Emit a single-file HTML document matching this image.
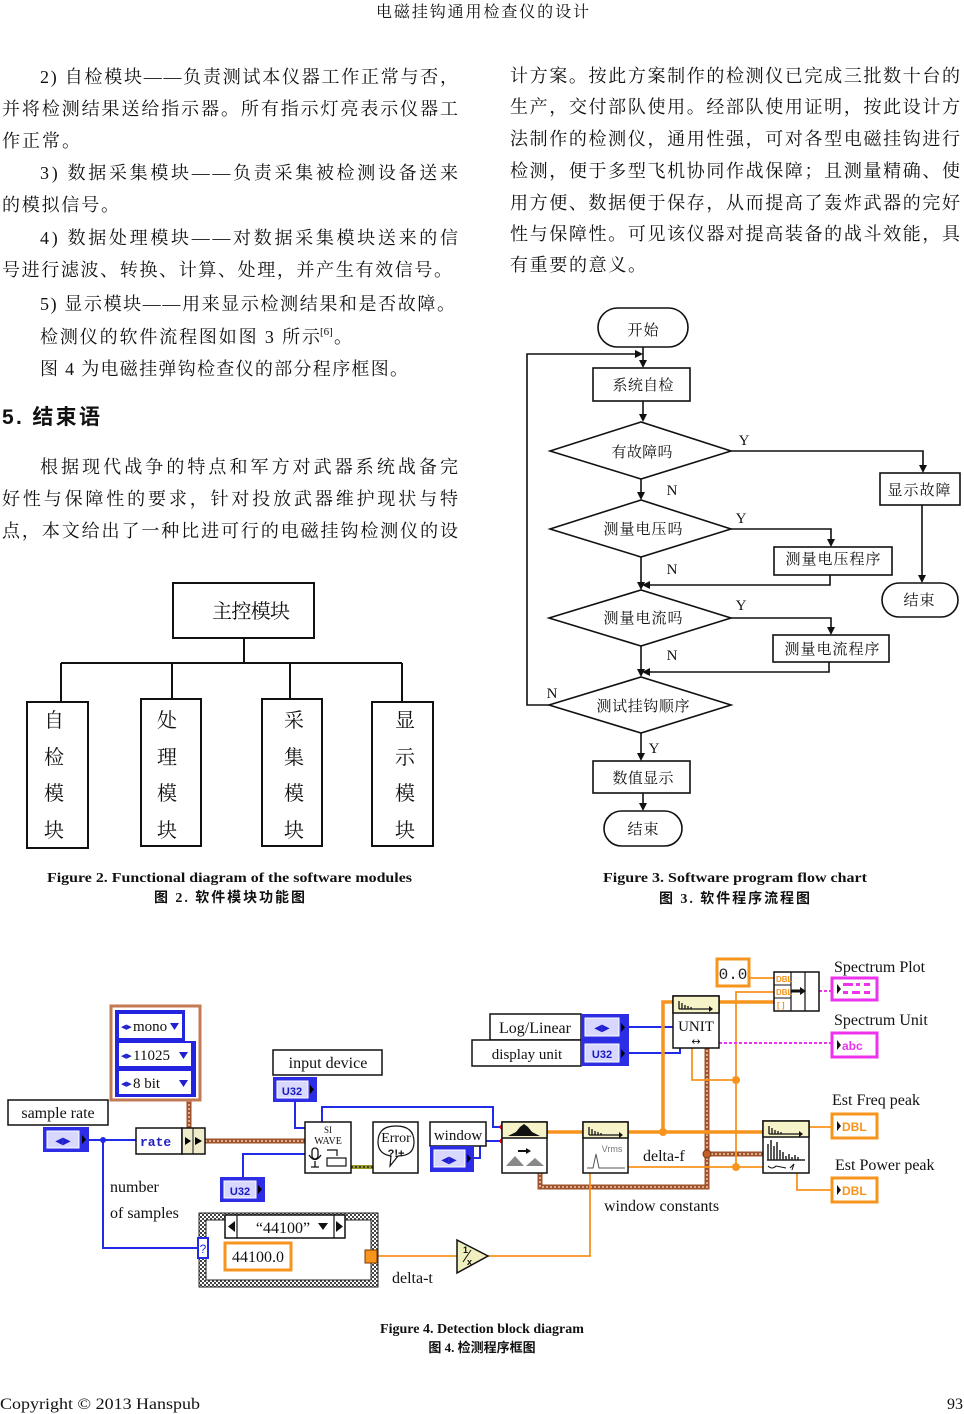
<!DOCTYPE html>
<html><head><meta charset="utf-8">
<style>
html,body{margin:0;padding:0;background:#fff;}
svg{display:block;}
.cn{font-family:"Liberation Serif","Noto Serif CJK SC",serif;fill:#111;}
.lb{font-family:"Liberation Serif",serif;fill:#111;}
.cap{font-family:"Liberation Serif","Noto Sans CJK SC",serif;font-weight:bold;fill:#111;}
</style></head>
<body>
<svg width="964" height="1414" viewBox="0 0 964 1414" xmlns="http://www.w3.org/2000/svg">
<defs>
<pattern id="hatch" width="4" height="4" patternUnits="userSpaceOnUse"><rect width="4" height="4" fill="#fff"/><rect width="2" height="2" fill="#444"/><rect x="2" y="2" width="2" height="2" fill="#444"/></pattern>
</defs>

<!-- Header -->
<text class="cn" x="376" y="17" font-size="16" textLength="213" lengthAdjust="spacing">电磁挂钩通用检查仪的设计</text>

<!-- Left column text -->
<g class="cn" font-size="18">
<text x="40" y="83" textLength="418" lengthAdjust="spacing">2) 自检模块——负责测试本仪器工作正常与否，</text>
<text x="2" y="115" textLength="456" lengthAdjust="spacing">并将检测结果送给指示器。所有指示灯亮表示仪器工</text>
<text x="2" y="147" textLength="78" lengthAdjust="spacing">作正常。</text>
<text x="40" y="179" textLength="418" lengthAdjust="spacing">3) 数据采集模块——负责采集被检测设备送来</text>
<text x="2" y="211" textLength="117" lengthAdjust="spacing">的模拟信号。</text>
<text x="40" y="244" textLength="418" lengthAdjust="spacing">4) 数据处理模块——对数据采集模块送来的信</text>
<text x="2" y="276" textLength="450" lengthAdjust="spacing">号进行滤波、转换、计算、处理，并产生有效信号。</text>
<text x="40" y="310" textLength="415" lengthAdjust="spacing">5) 显示模块——用来显示检测结果和是否故障。</text>
<text x="40" y="343" textLength="280" lengthAdjust="spacing">检测仪的软件流程图如图 3 所示</text>
<text x="320" y="335" font-size="11">[6]</text>
<text x="334" y="343">。</text>
<text x="40" y="375" textLength="368" lengthAdjust="spacing">图 4 为电磁挂弹钩检查仪的部分程序框图。</text>
<text x="40" y="473" textLength="418" lengthAdjust="spacing">根据现代战争的特点和军方对武器系统战备完</text>
<text x="2" y="505" textLength="456" lengthAdjust="spacing">好性与保障性的要求，针对投放武器维护现状与特</text>
<text x="2" y="537" textLength="456" lengthAdjust="spacing">点，本文给出了一种比进可行的电磁挂钩检测仪的设</text>
</g>
<text x="2" y="424" font-size="21" font-weight="bold" style="font-family:'Liberation Sans','Noto Sans CJK SC',sans-serif" fill="#111" textLength="98" lengthAdjust="spacing">5. 结束语</text>

<!-- Right column text -->
<g class="cn" font-size="18">
<text x="510" y="82" textLength="450" lengthAdjust="spacing">计方案。按此方案制作的检测仪已完成三批数十台的</text>
<text x="510" y="113" textLength="450" lengthAdjust="spacing">生产，交付部队使用。经部队使用证明，按此设计方</text>
<text x="510" y="145" textLength="450" lengthAdjust="spacing">法制作的检测仪，通用性强，可对各型电磁挂钩进行</text>
<text x="510" y="177" textLength="450" lengthAdjust="spacing">检测，便于多型飞机协同作战保障；且测量精确、使</text>
<text x="510" y="209" textLength="450" lengthAdjust="spacing">用方便、数据便于保存，从而提高了轰炸武器的完好</text>
<text x="510" y="240" textLength="450" lengthAdjust="spacing">性与保障性。可见该仪器对提高装备的战斗效能，具</text>
<text x="510" y="271" textLength="136" lengthAdjust="spacing">有重要的意义。</text>
</g>

<!-- Figure 2 -->
<g stroke="#111" stroke-width="2" fill="none">
<rect x="173" y="583" width="141" height="55"/>
<line x1="244" y1="638" x2="244" y2="663"/>
<line x1="61" y1="663" x2="402" y2="663"/>
<line x1="61" y1="663" x2="61" y2="702"/>
<line x1="172" y1="663" x2="172" y2="699"/>
<line x1="290" y1="663" x2="290" y2="699"/>
<line x1="402" y1="663" x2="402" y2="702"/>
<rect x="27" y="702" width="61" height="146"/>
<rect x="141" y="699" width="60" height="147"/>
<rect x="262" y="699" width="60" height="147"/>
<rect x="372" y="702" width="61" height="144"/>
</g>
<g class="cn" font-size="20" text-anchor="middle">
<text x="251" y="618" textLength="78" lengthAdjust="spacing">主控模块</text>
<text x="54" y="727">自</text><text x="54" y="764">检</text><text x="54" y="800">模</text><text x="54" y="837">块</text>
<text x="167" y="727">处</text><text x="167" y="764">理</text><text x="167" y="800">模</text><text x="167" y="837">块</text>
<text x="294" y="727">采</text><text x="294" y="764">集</text><text x="294" y="800">模</text><text x="294" y="837">块</text>
<text x="405" y="727">显</text><text x="405" y="764">示</text><text x="405" y="800">模</text><text x="405" y="837">块</text>
</g>
<text class="cap" x="47" y="882" font-size="14" textLength="365" lengthAdjust="spacingAndGlyphs">Figure 2. Functional diagram of the software modules</text>
<text class="cap" x="154" y="902" font-size="14" textLength="151" lengthAdjust="spacing">图 2. 软件模块功能图</text>

<!-- Figure 3 flowchart -->
<g stroke="#111" stroke-width="1.6" fill="none">
<rect x="598" y="308" width="90" height="39" rx="19.5"/>
<line x1="643" y1="347" x2="643" y2="362"/>
<polyline points="549,705 527,705 527,354 636,354"/>
<rect x="593" y="368" width="97" height="33"/>
<line x1="643" y1="401" x2="643" y2="416"/>
<polygon points="550,451 641,422 731,451 641,479"/>
<polyline points="731,451 923,451 923,467"/>
<rect x="880" y="473" width="80" height="32"/>
<line x1="922" y1="505" x2="922" y2="577"/>
<rect x="882" y="583" width="76" height="34" rx="17"/>
<line x1="641" y1="479" x2="641" y2="494"/>
<polygon points="550,529 641,500 731,529 641,557"/>
<polyline points="731,529 831,529 831,541"/>
<rect x="774" y="547" width="118" height="28"/>
<polyline points="830,575 830,585 649,585"/>
<line x1="641" y1="557" x2="641" y2="584"/>
<polygon points="549,618 641,590 731,618 641,646"/>
<polyline points="731,618 831,618 831,629"/>
<rect x="773" y="635" width="116" height="27"/>
<polyline points="829,662 829,672 649,672"/>
<line x1="641" y1="646" x2="641" y2="671"/>
<polygon points="549,705 641,677 731,705 641,733"/>
<line x1="641" y1="733" x2="641" y2="755"/>
<rect x="593" y="761" width="97" height="32"/>
<line x1="643" y1="793" x2="643" y2="805"/>
<rect x="604" y="811" width="78" height="35" rx="17.5"/>
</g>
<g fill="#111">
<polygon points="639,360 647,360 643,368"/>
<polygon points="635,350 635,358 643,354"/>
<polygon points="639,414 647,414 643,422"/>
<polygon points="919,465 927,465 923,473"/>
<polygon points="918,575 926,575 922,583"/>
<polygon points="637,492 645,492 641,500"/>
<polygon points="827,539 835,539 831,547"/>
<polygon points="650,581 650,589 642,585"/>
<polygon points="637,582 645,582 641,590"/>
<polygon points="827,627 835,627 831,635"/>
<polygon points="650,668 650,676 642,672"/>
<polygon points="637,669 645,669 641,677"/>
<polygon points="637,753 645,753 641,761"/>
<polygon points="639,803 647,803 643,811"/>
</g>
<g class="cn" font-size="15" text-anchor="middle">
<text x="643" y="335" textLength="31" lengthAdjust="spacing">开始</text>
<text x="643" y="390" textLength="61" lengthAdjust="spacing">系统自检</text>
<text x="642" y="457" textLength="61" lengthAdjust="spacing">有故障吗</text>
<text x="919" y="495" textLength="63" lengthAdjust="spacing">显示故障</text>
<text x="919" y="605" textLength="31" lengthAdjust="spacing">结束</text>
<text x="643" y="534" textLength="79" lengthAdjust="spacing">测量电压吗</text>
<text x="833" y="564" textLength="95" lengthAdjust="spacing">测量电压程序</text>
<text x="643" y="623" textLength="79" lengthAdjust="spacing">测量电流吗</text>
<text x="832" y="654" textLength="95" lengthAdjust="spacing">测量电流程序</text>
<text x="643" y="711" textLength="93" lengthAdjust="spacing">测试挂钩顺序</text>
<text x="643" y="783" textLength="61" lengthAdjust="spacing">数值显示</text>
<text x="643" y="834" textLength="31" lengthAdjust="spacing">结束</text>
</g>
<g class="lb" font-size="15" text-anchor="middle">
<text x="744" y="445">Y</text>
<text x="672" y="495">N</text>
<text x="741" y="523">Y</text>
<text x="672" y="574">N</text>
<text x="741" y="610">Y</text>
<text x="672" y="660">N</text>
<text x="552" y="698">N</text>
<text x="654" y="753">Y</text>
</g>
<text class="cap" x="603" y="882" font-size="14" textLength="264" lengthAdjust="spacingAndGlyphs">Figure 3. Software program flow chart</text>
<text class="cap" x="659" y="903" font-size="14" textLength="151" lengthAdjust="spacing">图 3. 软件程序流程图</text>

<!-- ================= Figure 4 ================= -->
<!-- wires -->
<g fill="none" stroke-linejoin="miter">
<!-- blue wires -->
<g stroke="#1f2be6" stroke-width="2">
<polyline points="89,1140 136,1140"/>
<polyline points="103,1140 103,1248 199,1248"/>
<polyline points="243,1177 243,1154 305,1154"/>
<polyline points="295,1102 295,1128 305,1128"/>
<polyline points="322,1122 322,1107 493,1107 493,1127 502,1127"/>
<polyline points="474,1158 480,1158 480,1141 502,1141"/>
<polyline points="629,1027 673,1027"/>
<polyline points="629,1053 680,1053 680,1046"/>
</g>
<!-- brown cluster wires -->
<g stroke="#a0522d" stroke-width="5">
<polyline points="189,1100 189,1128"/>
<polyline points="205,1141 305,1141"/>
<polyline points="540,1173 540,1187 707,1187 707,1048"/>
<polyline points="707,1154 763,1154"/>
</g>
<g stroke="#f0d0b0" stroke-width="1.5" stroke-dasharray="2 2">
<polyline points="189,1100 189,1128"/>
<polyline points="205,1141 305,1141"/>
<polyline points="540,1173 540,1187 707,1187 707,1048"/>
<polyline points="707,1154 763,1154"/>
</g>
<!-- error wire -->
<line x1="351" y1="1167" x2="373" y2="1167" stroke="#9a9a20" stroke-width="4"/>
<line x1="351" y1="1167" x2="373" y2="1167" stroke="#222" stroke-width="1.5" stroke-dasharray="2 2"/>
<!-- orange thick -->
<g stroke="#f7941d" stroke-width="3.5">
<polyline points="547,1132 583,1132"/>
<polyline points="628,1132 763,1132"/>
<polyline points="663,1132 663,1002 673,1002"/>
<polyline points="719,1002 774,1002"/>
</g>
<!-- orange thin -->
<g stroke="#f7941d" stroke-width="1.8">
<polyline points="749,978 774,978"/>
<polyline points="628,1167 763,1167"/>
<polyline points="736,1167 736,992 774,992"/>
<polyline points="692,1048 692,1080 736,1080"/>
<polyline points="290,1256 365,1256"/>
<polyline points="377,1256 457,1256"/>
<polyline points="488,1256 590,1256 590,1173"/>
<polyline points="809,1127 831,1127"/>
<polyline points="797,1173 797,1190 831,1190"/>
</g>
<!-- pink -->
<g stroke="#ee33ee" stroke-width="2" stroke-dasharray="3 2">
<polyline points="719,1043 831,1043"/>
<polyline points="819,991 831,991"/>
</g>
</g>
<!-- junction dots -->
<g fill="#1f2be6"><circle cx="103" cy="1140" r="3"/></g>
<g fill="#f7941d"><circle cx="663" cy="1132" r="4"/><circle cx="736" cy="1167" r="4"/><circle cx="736" cy="1080" r="4"/></g>
<circle cx="707" cy="1154" r="4" fill="#c0602a" stroke="#7a3010" stroke-width="1"/>
<g fill="#e00"><circle cx="137" cy="1140" r="2"/><circle cx="502" cy="1127" r="2.5"/><circle cx="502" cy="1141" r="2.5"/><circle cx="679" cy="1046" r="2.5"/></g>

<!-- sample rate -->
<rect x="8" y="1100" width="100" height="25" fill="#fff" stroke="#111" stroke-width="1.5"/>
<text class="lb" x="58" y="1118" font-size="16" text-anchor="middle">sample rate</text>
<rect x="43" y="1127" width="46" height="25" fill="#2d2de6"/>
<rect x="47" y="1131" width="32" height="17" fill="#d8d8ff" stroke="#fff" stroke-width="1"/>
<text x="63" y="1144" font-size="10" fill="#2020d0" text-anchor="middle" font-family="DejaVu Sans">◀▶</text>
<polygon points="82,1135 86,1139.5 82,1144" fill="#000"/>

<!-- cluster constant -->
<rect x="111" y="1006" width="89" height="94" fill="#fff" stroke="#c47a52" stroke-width="3"/>
<rect x="115" y="1010" width="81" height="87" fill="#2424e0"/>
<rect x="185" y="1010" width="11" height="31" fill="#fff"/>
<rect x="119" y="1014" width="63" height="24" fill="#fff"/>
<rect x="119" y="1043" width="72" height="23" fill="#fff"/>
<rect x="119" y="1071" width="72" height="23" fill="#fff"/>
<g font-family="DejaVu Sans" font-size="7" fill="#2020d0">
<text x="121" y="1029">◀▶</text><text x="121" y="1058">◀▶</text><text x="121" y="1086">◀▶</text>
</g>
<g class="lb" font-size="15">
<text x="133" y="1031">mono</text><text x="133" y="1060">11025</text><text x="133" y="1088">8   bit</text>
</g>
<g fill="#2020d0"><polygon points="170,1023 179,1023 174.5,1030"/><polygon points="179,1052 188,1052 183.5,1059"/><polygon points="179,1080 188,1080 183.5,1087"/></g>

<!-- rate node -->
<rect x="136" y="1128" width="46" height="26" fill="#fff" stroke="#111" stroke-width="1.5"/>
<text x="140" y="1146" font-size="13" font-weight="bold" fill="#2020c0" font-family="Liberation Mono,monospace">rate</text>
<rect x="182" y="1128" width="23" height="26" fill="#efeccc" stroke="#111" stroke-width="1.5"/>
<line x1="193" y1="1128" x2="193" y2="1154" stroke="#111" stroke-width="1"/>
<polygon points="185,1137 191,1141 185,1145" fill="#000"/><polygon points="195,1137 202,1141 195,1145" fill="#000"/>

<!-- U32 lower -->
<rect x="220" y="1177" width="45" height="25" fill="#2d2de6"/>
<rect x="224" y="1181" width="32" height="17" fill="#d8d8ff" stroke="#fff"/>
<text x="240" y="1195" font-size="11" font-weight="bold" fill="#1818c0" text-anchor="middle" font-family="Liberation Sans,sans-serif">U32</text>
<polygon points="258,1185 262,1189.5 258,1194" fill="#000"/>

<!-- input device -->
<rect x="273" y="1050" width="109" height="25" fill="#fff" stroke="#111" stroke-width="1.5"/>
<text class="lb" x="328" y="1068" font-size="16" text-anchor="middle">input device</text>
<rect x="273" y="1077" width="44" height="25" fill="#2d2de6"/>
<rect x="277" y="1081" width="31" height="17" fill="#d8d8ff" stroke="#fff"/>
<text x="292" y="1095" font-size="11" font-weight="bold" fill="#1818c0" text-anchor="middle" font-family="Liberation Sans,sans-serif">U32</text>
<polygon points="310,1085 314,1089.5 310,1094" fill="#000"/>

<!-- SI WAVE -->
<rect x="305" y="1122" width="46" height="51" fill="#fff" stroke="#111" stroke-width="1.5"/>
<text class="lb" x="328" y="1133" font-size="9" text-anchor="middle">SI</text>
<text class="lb" x="328" y="1144" font-size="10" text-anchor="middle">WAVE</text>
<rect x="312" y="1148" width="6" height="11" rx="3" fill="none" stroke="#111" stroke-width="1.3"/>
<path d="M309,1155 q6,9 12,0 M315,1161 v6 M311,1167 h8" fill="none" stroke="#111" stroke-width="1.3"/>
<rect x="327" y="1158" width="19" height="8" fill="#fff" stroke="#111" stroke-width="1.2"/>
<path d="M327,1150 h10 v6" fill="none" stroke="#111" stroke-width="1.2"/>

<!-- Error -->
<rect x="373" y="1122" width="45" height="51" fill="#fff" stroke="#111" stroke-width="1.5"/>
<path d="M378,1142 q0,-16 18,-16 q18,0 18,16 q0,14 -16,14 l-8,10 l1,-10 q-13,-2 -13,-14z" fill="none" stroke="#111" stroke-width="1.2"/>
<text class="lb" x="396" y="1142" font-size="14" text-anchor="middle">Error</text>
<text x="396" y="1157" font-size="11" font-weight="bold" text-anchor="middle" fill="#111" font-family="Liberation Sans,sans-serif">?!+</text>

<!-- window -->
<rect x="430" y="1122" width="56" height="24" fill="#fff" stroke="#111" stroke-width="1.5"/>
<text class="lb" x="458" y="1140" font-size="15" text-anchor="middle">window</text>
<rect x="430" y="1146" width="44" height="26" fill="#2d2de6"/>
<rect x="434" y="1150" width="31" height="17" fill="#d8d8ff" stroke="#fff"/>
<text x="449" y="1163" font-size="10" fill="#2020d0" text-anchor="middle" font-family="DejaVu Sans">◀▶</text>
<polygon points="467,1154 471,1158.5 467,1163" fill="#000"/>

<!-- FFT block -->
<rect x="502" y="1122" width="45" height="51" fill="#fff" stroke="#111" stroke-width="1.5"/>
<rect x="502" y="1122" width="45" height="16" fill="#f6f3c8" stroke="#111" stroke-width="1.5"/>
<path d="M508,1136 l8,-4 l4,-5 l4,-3 l4,3 l4,5 l8,4z" fill="#111"/>
<polygon points="506,1166 515,1156 524,1166" fill="#888"/>
<polygon points="526,1166 535,1158 544,1166" fill="#888"/>
<path d="M518,1151 h8" stroke="#111" stroke-width="2"/><polygon points="526,1148 531,1151 526,1154" fill="#111"/>

<!-- Vrms block -->
<rect x="583" y="1122" width="45" height="51" fill="#fff" stroke="#111" stroke-width="1.5"/>
<rect x="583" y="1122" width="45" height="16" fill="#f6f3c8" stroke="#111" stroke-width="1.5"/>
<path d="M589,1135 v-8 M592,1135 v-6 M595,1135 v-4 M598,1135 v-3 M601,1135 v-2 M589,1135 h30" stroke="#111" stroke-width="1.3"/>
<polygon points="619,1132 623,1135 619,1138" fill="#111"/>
<text x="612" y="1152" font-size="9" fill="#777" text-anchor="middle" font-family="Liberation Sans,sans-serif">Vrms</text>
<path d="M587,1168 h6 l3,-14 l3,14 h26" fill="none" stroke="#555" stroke-width="1"/>

<!-- Log/Linear, display unit -->
<rect x="490" y="1014" width="91" height="26" fill="#fff" stroke="#111" stroke-width="1.5"/>
<text class="lb" x="535" y="1033" font-size="16" text-anchor="middle">Log/Linear</text>
<rect x="472" y="1040" width="109" height="26" fill="#fff" stroke="#111" stroke-width="1.5"/>
<text class="lb" x="527" y="1059" font-size="15" text-anchor="middle">display unit</text>
<rect x="581" y="1014" width="48" height="52" fill="#2d2de6"/>
<rect x="585" y="1018" width="34" height="18" fill="#d8d8ff" stroke="#fff"/>
<text x="602" y="1031" font-size="10" fill="#2020d0" text-anchor="middle" font-family="DejaVu Sans">◀▶</text>
<polygon points="621,1023 625,1027.5 621,1032" fill="#000"/>
<rect x="585" y="1044" width="34" height="18" fill="#d8d8ff" stroke="#fff"/>
<text x="602" y="1058" font-size="11" font-weight="bold" fill="#1818c0" text-anchor="middle" font-family="Liberation Sans,sans-serif">U32</text>
<polygon points="621,1049 625,1053.5 621,1058" fill="#000"/>

<!-- UNIT block -->
<rect x="673" y="996" width="46" height="52" fill="#fff" stroke="#111" stroke-width="1.5"/>
<rect x="673" y="996" width="46" height="17" fill="#f6f3c8" stroke="#111" stroke-width="1.5"/>
<path d="M679,1009 v-8 M682,1009 v-6 M685,1009 v-4 M688,1009 v-3 M691,1009 v-2 M679,1009 h30" stroke="#111" stroke-width="1.3"/>
<polygon points="709,1006 713,1009 709,1012" fill="#111"/>
<text class="lb" x="696" y="1031" font-size="15" text-anchor="middle">UNIT</text>
<text x="696" y="1045" font-size="11" text-anchor="middle" fill="#111" font-family="DejaVu Sans">↔</text>

<!-- 0.0 constant -->
<rect x="717" y="959" width="32" height="27" fill="#fff" stroke="#f7941d" stroke-width="3"/>
<text x="733" y="979" font-size="16" text-anchor="middle" fill="#222" font-family="Liberation Mono,monospace">0.0</text>

<!-- Bundle -->
<rect x="774" y="972" width="45" height="39" fill="#fff" stroke="#111" stroke-width="1.5"/>
<line x1="791" y1="972" x2="791" y2="1011" stroke="#111" stroke-width="1.2"/>
<line x1="805" y1="972" x2="805" y2="1011" stroke="#111" stroke-width="1.2"/>
<line x1="774" y1="985" x2="791" y2="985" stroke="#111" stroke-width="1"/>
<line x1="774" y1="998" x2="791" y2="998" stroke="#111" stroke-width="1"/>
<g font-family="Liberation Sans,sans-serif" font-size="8" font-weight="bold" fill="#f7941d">
<text x="776" y="982">DBL</text><text x="776" y="995">DBL</text><text x="777" y="1008">[ ]</text></g>
<path d="M791,991 h10" stroke="#111" stroke-width="3"/><polygon points="800,987 806,991 800,995" fill="#111"/>

<!-- Spectrum Plot / Unit -->
<text class="lb" x="834" y="972" font-size="16">Spectrum Plot</text>
<rect x="832" y="978" width="45" height="22" fill="#fff" stroke="#ee33ee" stroke-width="3"/>
<polygon points="837,984 841,989 837,994" fill="#111"/>
<g fill="#ee33ee"><rect x="843" y="983" width="10" height="3"/><rect x="856" y="983" width="4" height="3"/><rect x="864" y="983" width="6" height="3"/><rect x="843" y="991" width="5" height="3"/><rect x="852" y="991" width="8" height="3"/><rect x="864" y="991" width="6" height="3"/></g>
<text class="lb" x="834" y="1025" font-size="16">Spectrum Unit</text>
<rect x="832" y="1033" width="45" height="24" fill="#fff" stroke="#ee33ee" stroke-width="3"/>
<polygon points="837,1040 841,1045 837,1050" fill="#111"/>
<text x="842" y="1050" font-size="12" font-weight="bold" fill="#ee33ee" font-family="Liberation Sans,sans-serif">abc</text>

<!-- Est Freq / Power peak -->
<text class="lb" x="832" y="1105" font-size="16">Est Freq peak</text>
<rect x="832" y="1114" width="45" height="24" fill="#fff" stroke="#f7941d" stroke-width="3"/>
<polygon points="837,1121 841,1126 837,1131" fill="#111"/>
<text x="842" y="1131" font-size="12" font-weight="bold" fill="#f7941d" font-family="Liberation Sans,sans-serif">DBL</text>
<text class="lb" x="835" y="1170" font-size="16">Est Power peak</text>
<rect x="832" y="1178" width="45" height="24" fill="#fff" stroke="#f7941d" stroke-width="3"/>
<polygon points="837,1185 841,1190 837,1195" fill="#111"/>
<text x="842" y="1195" font-size="12" font-weight="bold" fill="#f7941d" font-family="Liberation Sans,sans-serif">DBL</text>

<!-- Power peak block -->
<rect x="763" y="1121" width="46" height="52" fill="#fff" stroke="#111" stroke-width="1.5"/>
<rect x="763" y="1121" width="46" height="16" fill="#f6f3c8" stroke="#111" stroke-width="1.5"/>
<path d="M769,1134 v-8 M772,1134 v-6 M775,1134 v-4 M778,1134 v-3 M781,1134 v-2 M769,1134 h30" stroke="#111" stroke-width="1.3"/>
<polygon points="799,1131 803,1134 799,1137" fill="#111"/>
<path d="M768,1160 v-16 M771,1160 v-20 M774,1160 v-14 M777,1160 v-18 M780,1160 v-10 M783,1160 v-8 M786,1160 v-4 M789,1160 v-6 M792,1160 v-3 M795,1160 v-5 M798,1160 v-3 M767,1160 h38" stroke="#222" stroke-width="1.5"/>
<path d="M768,1166 q4,4 8,0 l10,2 M790,1168 l4,-4 l-2,6" fill="none" stroke="#111" stroke-width="1"/>

<!-- Case structure -->
<rect x="199" y="1213" width="179" height="74" fill="url(#hatch)" stroke="#222" stroke-width="1"/>
<rect x="206" y="1220" width="165" height="60" fill="#fff" stroke="#222" stroke-width="1"/>
<rect x="225" y="1215" width="120" height="23" fill="#fff" stroke="#111" stroke-width="1.5"/>
<line x1="237" y1="1215" x2="237" y2="1238" stroke="#111" stroke-width="1.2"/>
<line x1="334" y1="1215" x2="334" y2="1238" stroke="#111" stroke-width="1.2"/>
<polygon points="235,1221 228,1226.5 235,1232" fill="#111"/>
<polygon points="336,1221 343,1226.5 336,1232" fill="#111"/>
<polygon points="318,1223 328,1223 323,1230" fill="#111"/>
<text class="lb" x="283" y="1233" font-size="16" text-anchor="middle">“44100”</text>
<rect x="198" y="1238" width="10" height="20" fill="#fff" stroke="#1f2be6" stroke-width="2"/>
<text x="203" y="1253" font-size="12" fill="#1f2be6" text-anchor="middle" font-family="Liberation Sans,sans-serif">?</text>
<rect x="225" y="1243" width="66" height="27" fill="#fff" stroke="#f7941d" stroke-width="3"/>
<text class="lb" x="258" y="1262" font-size="16" text-anchor="middle">44100.0</text>
<rect x="365" y="1250" width="12" height="13" fill="#f7941d" stroke="#7a3a00" stroke-width="1"/>

<!-- 1/x -->
<polygon points="457,1240 488,1256 457,1273" fill="#f0efc0" stroke="#111" stroke-width="1.5"/>
<text x="463" y="1253" font-size="9" font-weight="bold" fill="#111" font-family="Liberation Sans,sans-serif">1</text>
<line x1="463" y1="1262" x2="471" y2="1250" stroke="#111" stroke-width="1"/>
<text x="467" y="1265" font-size="9" font-weight="bold" fill="#111" font-family="Liberation Sans,sans-serif">x</text>

<!-- labels -->
<g class="lb" font-size="16">
<text x="110" y="1192">number</text>
<text x="110" y="1218">of samples</text>
<text x="392" y="1283">delta-t</text>
<text x="643" y="1161">delta-f</text>
<text x="604" y="1211">window constants</text>
</g>

<text class="cap" x="482" y="1333" font-size="14" text-anchor="middle">Figure 4. Detection block diagram</text>
<text class="cap" x="482" y="1352" font-size="13" text-anchor="middle">图 4. 检测程序框图</text>

<!-- Footer -->
<text class="lb" x="0" y="1409" font-size="16" textLength="200" lengthAdjust="spacingAndGlyphs">Copyright © 2013 Hanspub</text>
<text class="lb" x="963" y="1409" font-size="16" text-anchor="end">93</text>
</svg>
</body></html>
